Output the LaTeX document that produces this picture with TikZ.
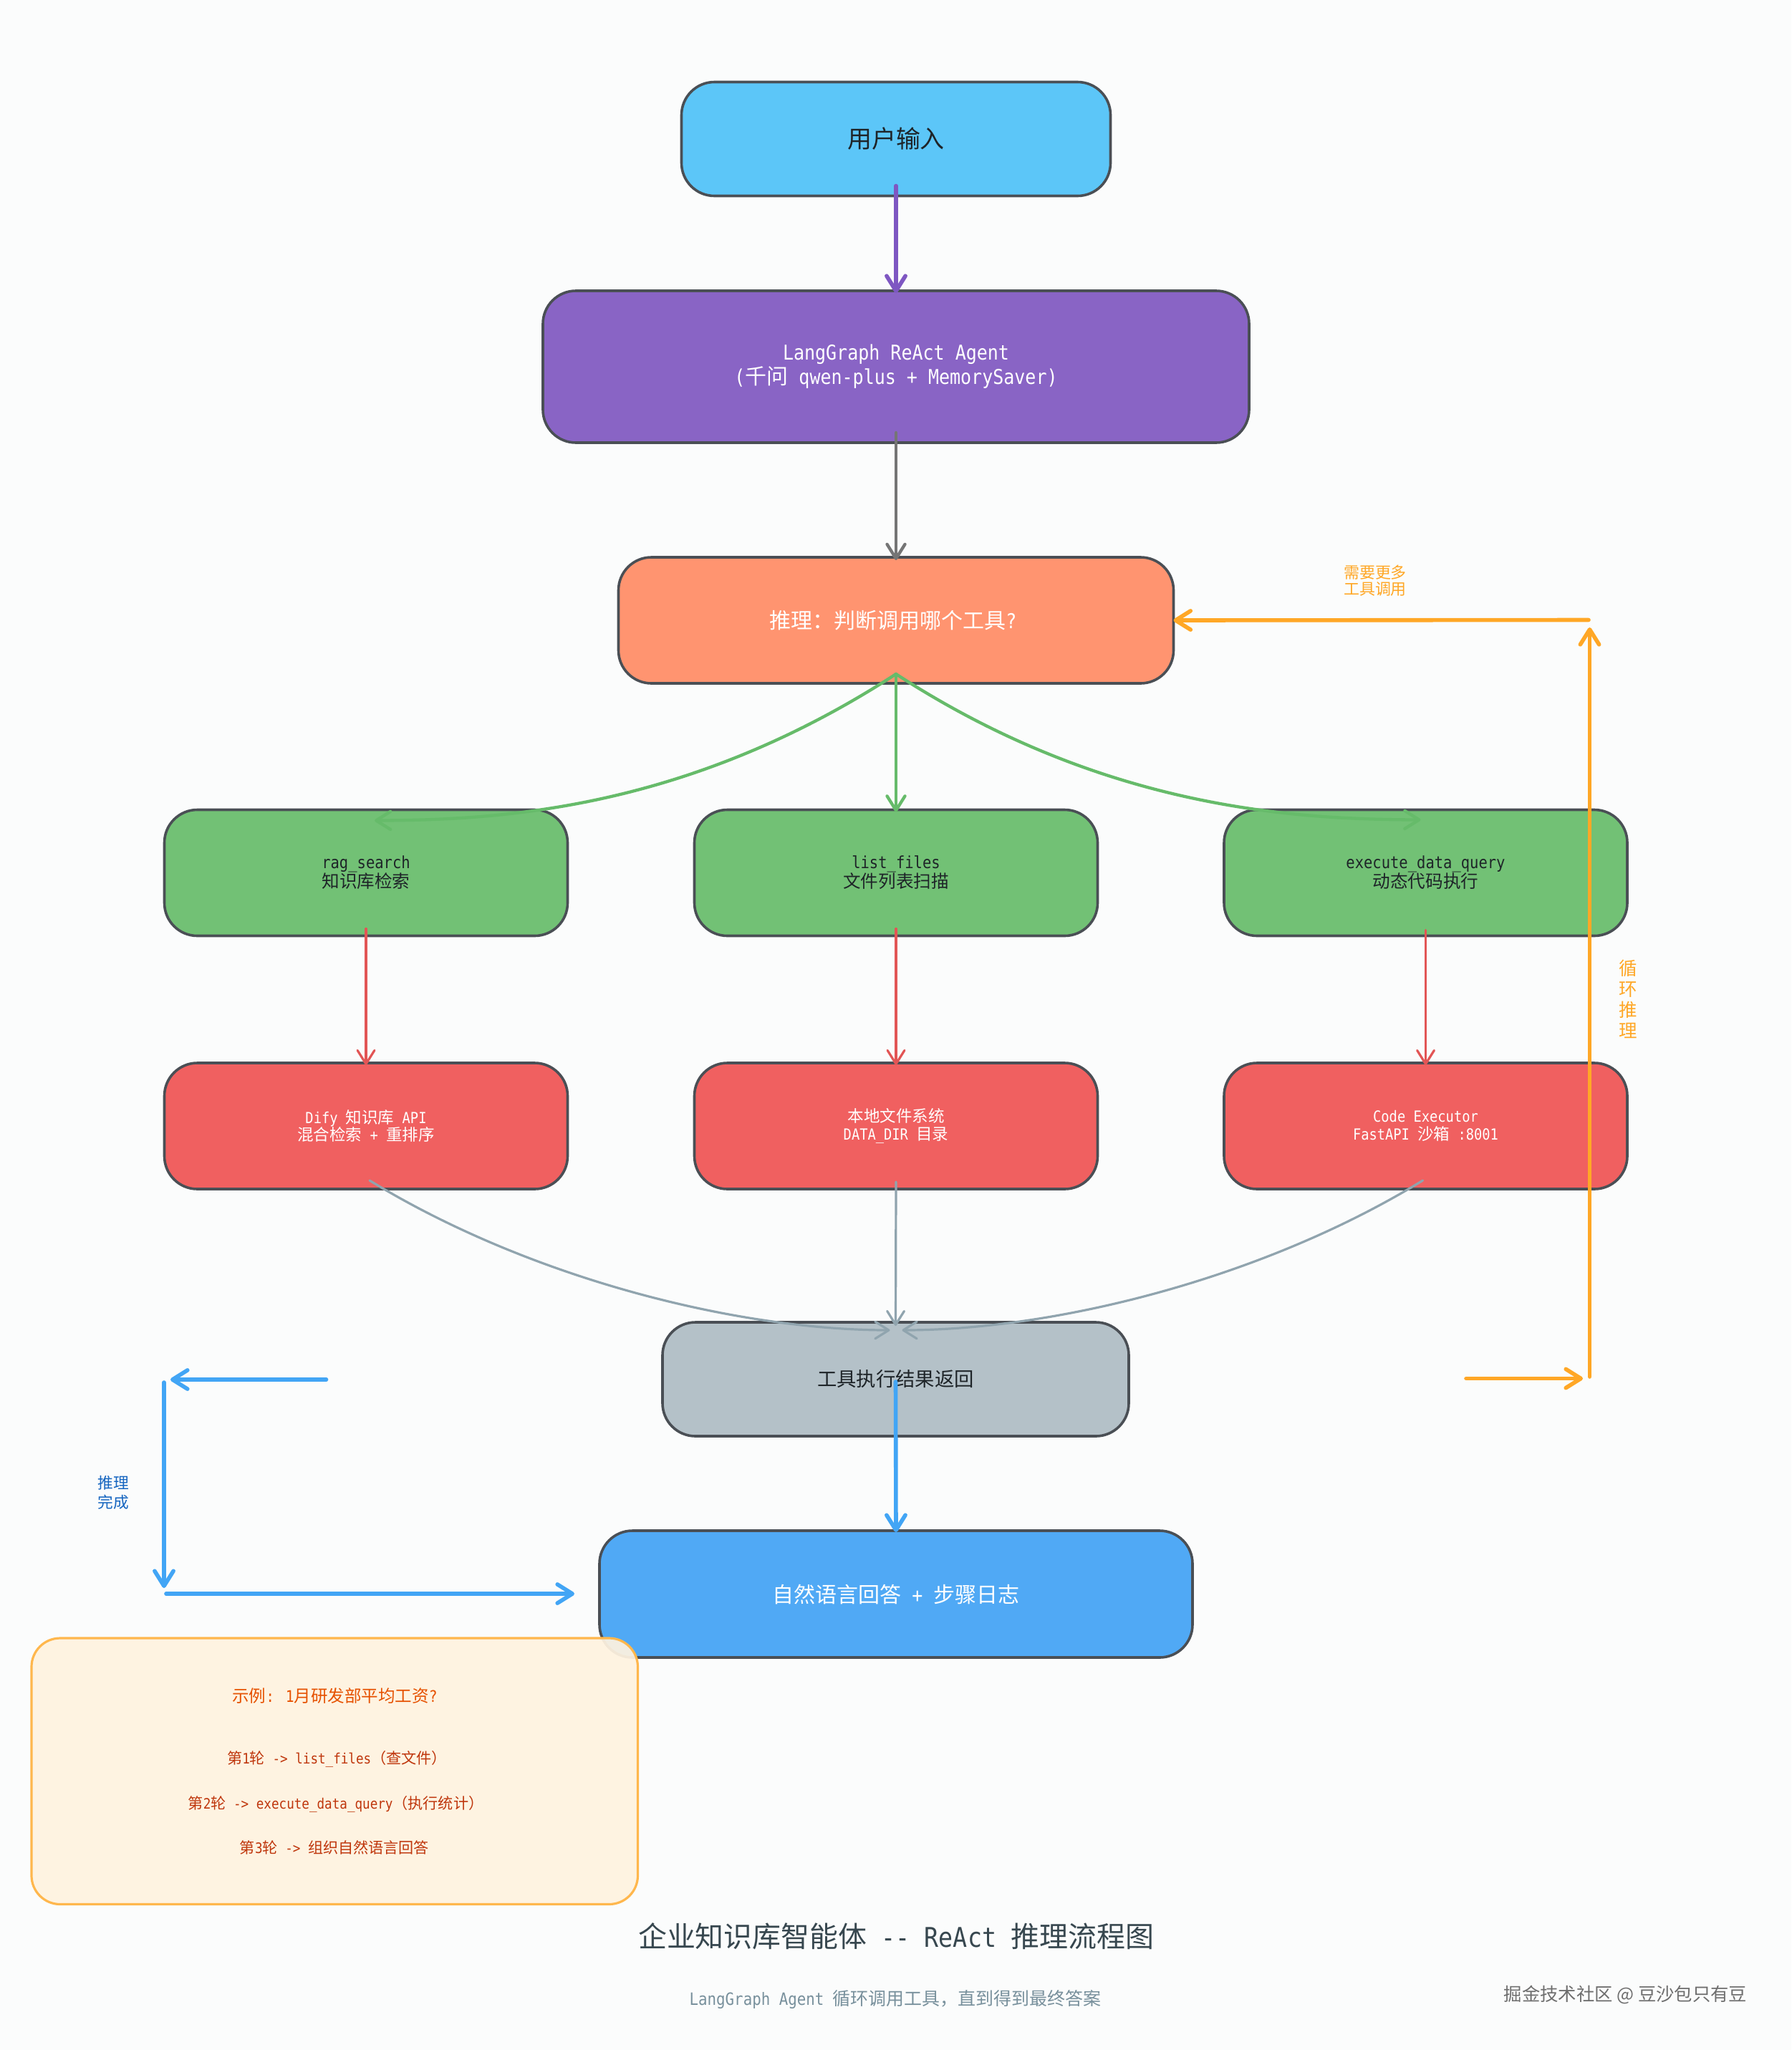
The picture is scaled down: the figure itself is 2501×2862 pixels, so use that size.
\documentclass[tikz,border=0pt]{standalone}
\usepackage{fontspec}
\setmainfont[Scale=1.14,FakeStretch=0.877]{DejaVu Sans Mono}
\newfontfamily\cjk[Scale=1.2]{Noto Sans CJK SC}
\usetikzlibrary{arrows.meta}
\newcommand\C[1]{{\cjk #1}}
\newcommand\fsz[2]{\fontsize{#1}{#2}\selectfont}
\definecolor{bgc}{HTML}{FBFCFC}
\definecolor{edgec}{HTML}{4A4F55}
\definecolor{cuser}{HTML}{5CC6F8}
\definecolor{cagent}{HTML}{8964C5}
\definecolor{creason}{HTML}{FF9470}
\definecolor{cgreen}{HTML}{72C175}
\definecolor{cred}{HTML}{F06060}
\definecolor{cgray}{HTML}{B4C1C8}
\definecolor{cans}{HTML}{50A9F5}
\definecolor{ltpurple}{HTML}{7E57C2}
\definecolor{ltgray}{HTML}{757575}
\definecolor{ltgreen}{HTML}{66BB6A}
\definecolor{ltred}{HTML}{E25555}
\definecolor{ltslate}{HTML}{90A4AE}
\definecolor{ltblue}{HTML}{42A5F5}
\definecolor{ltorange}{HTML}{FFA726}
\definecolor{darktxt}{HTML}{1E2428}
\definecolor{donetxt}{HTML}{1565C0}
\definecolor{noteline}{HTML}{FFB74D}
\definecolor{notefill}{HTML}{FFF3E0}
\definecolor{notetitle}{HTML}{E65100}
\definecolor{notebody}{HTML}{BF360C}
\definecolor{titlec}{HTML}{37474F}
\definecolor{subc}{HTML}{78909C}
\definecolor{wmc}{HTML}{6E6E6E}
\tikzset{
  x=1pt,y=-1pt,
  boxnode/.style={draw=edgec,line width=3.6pt,rounded corners=46pt,inner sep=0pt,outer sep=0pt,align=center},
  toolbox/.style={boxnode,minimum width=563pt,minimum height=176pt,font=\fsz{20.5}{27},text=darktxt,fill=cgreen},
  svcbox/.style={boxnode,minimum width=563pt,minimum height=176pt,font=\fsz{18.75}{24.5},text=white,fill=cred},
  plain/.style={inner sep=0pt,outer sep=0pt,align=center},
  barb/.style={-{Straight Barb[length=#1pt,width=#1pt*1.25,round]},line cap=round},
  ln1/.style={barb=21,line width=5.6pt},
  ln2/.style={barb=20,line width=4.3pt},
  ln3/.style={barb=19,line width=3.2pt},
}
\AtBeginDocument{\lineskiplimit=-100pt\relax}
\begin{document}
\begin{tikzpicture}
\fill[bgc,use as bounding box] (0,0) rectangle (2501,2862);
% nodes
\node[boxnode,fill=cuser,text=darktxt,minimum width=599pt,minimum height=159pt,font=\fsz{28.3}{34}] (user) at (1251,194) {\C{用户输入}};
\node[boxnode,fill=cagent,text=white,minimum width=986pt,minimum height=212pt,font=\fsz{25}{34}] (agent) at (1251,512) {LangGraph ReAct Agent\\(\C{千问} qwen-plus + MemorySaver)};
\node[boxnode,fill=creason,text=white,minimum width=775pt,minimum height=176pt,font=\fsz{25}{30}] (reason) at (1251,866) {\C{推理：判断调用哪个工具}?\kern 8pt};
\node[toolbox] (rag) at (511,1218.5) {rag\_search\\\C{知识库检索}};
\node[toolbox] (list) at (1251,1218.5) {list\_files\\\C{文件列表扫描}};
\node[toolbox] (exec) at (1990.5,1218.5) {execute\_data\_query\\\C{动态代码执行}};
\node[svcbox] (dify) at (511,1572) {Dify \C{知识库} API\\\C{混合检索} + \C{重排序}};
\node[svcbox] (fs) at (1251,1572) {\C{本地文件系统}\\DATA\_DIR \C{目录}};
\node[svcbox] (code) at (1990.5,1572) {Code Executor\\FastAPI \C{沙箱} :8001};
\node[boxnode,fill=cgray,text=darktxt,minimum width=651pt,minimum height=159pt,font=\fsz{22.8}{27}] (result) at (1250.5,1925.5) {\C{工具执行结果返回}};
\node[boxnode,fill=cans,text=white,minimum width=828pt,minimum height=177pt,font=\fsz{25}{30}] (answer) at (1251,2225.5) {\C{自然语言回答} + \C{步骤日志}};
% coordinates
\coordinate (ortop) at (2218,865.5);
\coordinate (orv0) at (2219.5,1922);
\coordinate (orv1) at (2219.5,876);
\coordinate (orb0) at (2047,1924.5);
\coordinate (orb1) at (2210,1924.5);
\coordinate (bla0) at (455.5,1926);
\coordinate (bla1) at (238,1926);
\coordinate (blb0) at (229,1930);
\coordinate (blb1) at (229,2217);
\coordinate (blc0) at (232,2225);
\coordinate (blc1) at (802,2225);
% connectors
\draw[ln1,ltpurple] ([yshift=14pt]user.south) -- ([yshift=-3pt]agent.north);
\draw[ln2,ltgray] ([yshift=14pt]agent.south) -- ([yshift=-4pt]reason.north);
\draw[ln2,ltgreen] ([yshift=13pt]reason.south) -- ([yshift=-3pt]list.north);
\draw[ln2,ltgreen] ([yshift=13pt]reason.south) .. controls (960,1130) and (700,1145) .. ([xshift=12pt,yshift=-15pt]rag.north);
\draw[ln2,ltgreen] ([yshift=13pt]reason.south) .. controls (1542,1130) and (1810,1144) .. ([xshift=-7pt,yshift=-14pt]exec.north);
\draw[ln3,ltred] ([yshift=10pt]rag.south) -- ([yshift=-3pt]dify.north);
\draw[ln3,ltred] ([yshift=10pt]list.south) -- ([yshift=-3pt]fs.north);
\draw[ln3,ltred] ([yshift=8pt]exec.south) -- ([yshift=-3pt]code.north);
\draw[ln3,ltslate] ([xshift=5pt,yshift=12pt]dify.south) .. controls (740,1785) and (1030,1857) .. ([xshift=-8pt,yshift=-11pt]result.north);
\draw[ln3,ltslate] ([yshift=10pt]fs.south) -- ([yshift=-5pt]result.north);
\draw[ln3,ltslate] ([xshift=-4pt,yshift=12pt]code.south) .. controls (1763,1785) and (1473,1857) .. ([xshift=9pt,yshift=-11pt]result.north);
\draw[ln1,ltblue] ([yshift=-3.5pt]result.center) -- ([yshift=-2pt]answer.north);
\draw[ln1,ltblue] (bla0) -- (bla1);
\draw[ln1,ltblue] (blb0) -- (blb1);
\draw[ln1,ltblue] (blc0) -- (blc1);
\draw[ln1,ltorange] (ortop) -- (reason.east);
\draw[ln1,ltorange] (orv0) -- (orv1);
\draw[ln1,ltorange] (orb0) -- (orb1);
% labels
\node[plain,text=ltorange,font=\fsz{18.3}{23}] (lblmore) at (1920,811) {\C{需要更多}\\\C{工具调用}};
\node[plain,text=ltorange,font=\fsz{21.25}{29}] (lblloop) at (2273.5,1395) {\C{循}\\\C{环}\\\C{推}\\\C{理}};
\node[plain,text=donetxt,font=\fsz{18.1}{27.5}] (lbldone) at (158.5,2084) {\C{推理}\\\C{完成}};
% example note
\node[draw=noteline,fill=notefill,fill opacity=.93,line width=3.2pt,rounded corners=40pt,inner sep=0pt,outer sep=0pt,minimum width=846.5pt,minimum height=371.5pt] (note) at (467.25,2472.75) {};
\node[plain,text=notetitle,font=\fsz{19.6}{24}] (ex0) at (467.5,2367.5) {\C{示例}: 1\C{月研发部平均工资}?};
\node[plain,text=notebody,font=\fsz{17.6}{22}] (ex1) at (470.5,2455.5) {\C{第}1\C{轮} -> list\_files\C{（查文件）}};
\node[plain,text=notebody,font=\fsz{17.6}{22}] (ex2) at (469,2518.5) {\C{第}2\C{轮} -> execute\_data\_query\C{（执行统计）}};
\node[plain,text=notebody,font=\fsz{17.6}{22}] (ex3) at (467,2579) {\C{第}3\C{轮} -> \C{组织自然语言回答}};
% titles
\node[plain,text=titlec,font=\fsz{33.3}{40}] (title) at (1251,2703) {\C{企业知识库智能体} -{}- ReAct \C{推理流程图}};
\node[plain,text=subc,font=\fsz{20.8}{25}] (sub) at (1250,2791.5) {LangGraph Agent \C{循环调用工具，直到得到最终答案}};
\node[plain,text=wmc,font=\fsz{21.1}{26}] (wm) at (2269.5,2785) {\cjk 掘金技术社区 @ 豆沙包只有豆};
\end{tikzpicture}
\end{document}
